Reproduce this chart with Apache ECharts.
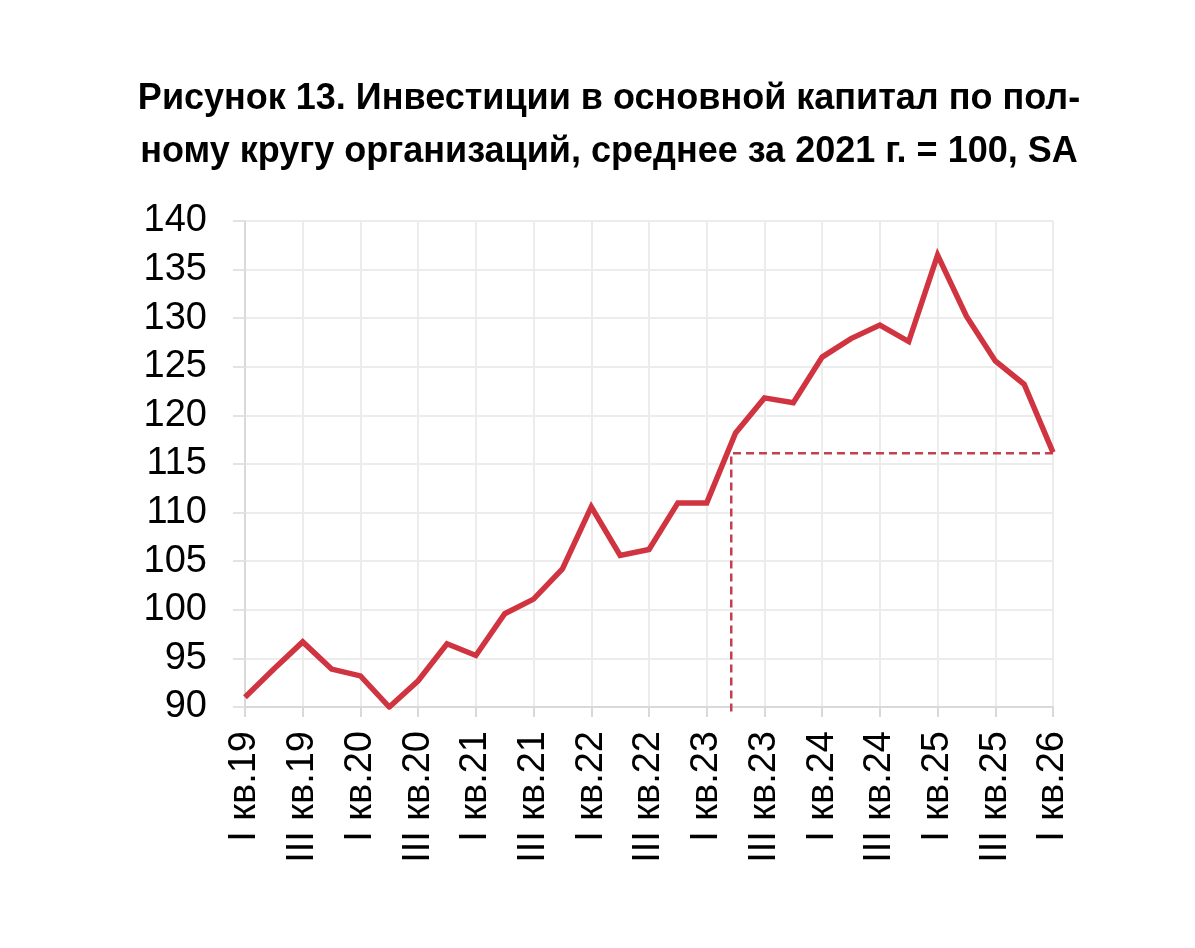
<!DOCTYPE html>
<html>
<head>
<meta charset="utf-8">
<script src="https://cdn.jsdelivr.net/npm/echarts@6/dist/echarts.min.js"></script>
<style>
  html, body { margin: 0; padding: 0; background: #fff; }
  #main { width: 1195px; height: 948px; }
</style>
</head>
<body>
<div id="main"></div>
<script>
// кварталы с I кв.19 по I кв.26
var quarters = [
  'I кв.19', 'II кв.19', 'III кв.19', 'IV кв.19',
  'I кв.20', 'II кв.20', 'III кв.20', 'IV кв.20',
  'I кв.21', 'II кв.21', 'III кв.21', 'IV кв.21',
  'I кв.22', 'II кв.22', 'III кв.22', 'IV кв.22',
  'I кв.23', 'II кв.23', 'III кв.23', 'IV кв.23',
  'I кв.24', 'II кв.24', 'III кв.24', 'IV кв.24',
  'I кв.25', 'II кв.25', 'III кв.25', 'IV кв.25',
  'I кв.26'
];

// инвестиции, среднее за 2021 г. = 100, SA
var investIndex = [
  91.0, 93.9, 96.7, 93.9,
  93.2, 90.0, 92.7, 96.5,
  95.3, 99.6, 101.1, 104.2,
  110.6, 105.6, 106.2, 111.0,
  111.0, 118.2, 121.8, 121.3,
  126.0, 127.9, 129.3, 127.6,
  136.5, 130.2, 125.6, 123.2,
  116.2
];

// пунктирная линия уровня последнего значения
var refLevel = 116.1;
var refStartX = 16.85;   // где линия пересекает уровень (между I и II кв.23)
var refBottom = 89.1;    // чуть ниже оси

var yTicks = { min: 90, max: 140, step: 5 };

var lineData = investIndex.map(function (v, i) { return [i, v]; });
var refData = [
  [quarters.length - 1, refLevel],
  [refStartX, refLevel],
  [refStartX, refBottom]
];

var myChart = echarts.init(document.getElementById('main'));

var option = {
  backgroundColor: '#ffffff',
  animation: false,
  title: {
    text: 'Рисунок 13. Инвестиции в основной капитал по пол-\nному кругу организаций, среднее за 2021 г. = 100, SA',
    left: 604,
    top: 68,
    textAlign: 'center',
    textStyle: {
      fontFamily: 'Liberation Sans',
      fontSize: 36,
      fontWeight: 'bold',
      color: '#000',
      lineHeight: 53
    }
  },
  grid: {
    left: 245,
    right: 142,
    top: 221,
    bottom: 241,
    containLabel: false
  },
  xAxis: {
    type: 'value',
    min: 0,
    max: quarters.length - 1,
    interval: 2,
    axisLine: { show: true, lineStyle: { color: '#d9d9d9', width: 2 } },
    axisTick: { show: true, length: 10, lineStyle: { color: '#d9d9d9', width: 2 } },
    splitLine: { show: true, lineStyle: { color: '#ececec', width: 2 } },
    axisLabel: {
      rotate: 90,
      margin: 24,
      fontFamily: 'Liberation Sans',
      fontSize: 38,
      color: '#000',
      formatter: function (v) { return quarters[v] || ''; }
    }
  },
  yAxis: {
    type: 'value',
    min: yTicks.min,
    max: yTicks.max,
    interval: yTicks.step,
    axisLine: { show: true, lineStyle: { color: '#d9d9d9', width: 2 } },
    axisTick: { show: true, length: 12, lineStyle: { color: '#e3e3e3', width: 2 } },
    splitLine: { show: true, lineStyle: { color: '#ececec', width: 2 } },
    axisLabel: {
      margin: 38,
      fontFamily: 'Liberation Sans',
      fontSize: 38,
      color: '#000'
    }
  },
  series: [
    {
      name: 'Инвестиции',
      type: 'line',
      data: lineData,
      showSymbol: false,
      symbol: 'none',
      lineStyle: { color: '#d03440', width: 5.5, join: 'miter' },
      z: 3
    },
    {
      name: 'Уровень',
      type: 'line',
      data: refData,
      clip: false,
      showSymbol: false,
      symbol: 'none',
      lineStyle: { color: '#c4404f', width: 2.5, type: [8, 5] },
      z: 2
    }
  ]
};

myChart.setOption(option);
</script>
</body>
</html>
